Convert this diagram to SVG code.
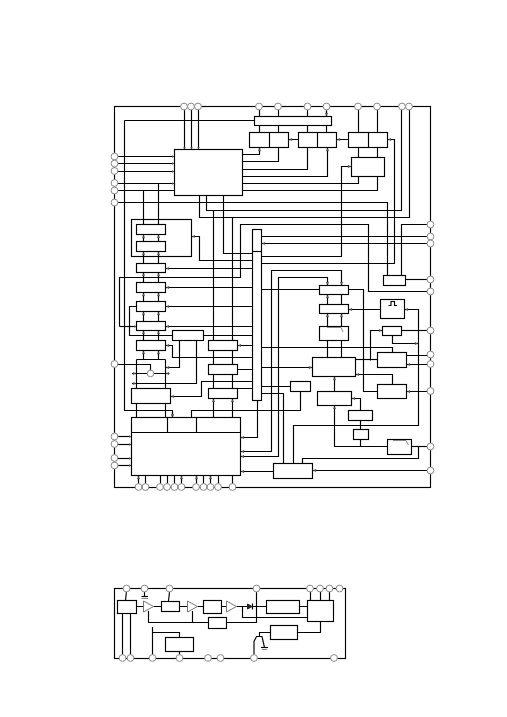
<svg xmlns="http://www.w3.org/2000/svg" width="507" height="717" viewBox="0 0 507 717">
<style>
.w{fill:none;stroke:#000;stroke-width:1.15}
.a{fill:none;stroke:#000;stroke-width:1.15;marker-end:url(#ar)}
.b{fill:#fff;stroke:#000;stroke-width:1.15}
.p{fill:#fff;stroke:#8a8a8a;stroke-width:1}
.g{fill:none;stroke:#888;stroke-width:1}
.t{fill:#fff;stroke:#777;stroke-width:1}
</style>
<defs>
<marker id="ar" markerWidth="3" markerHeight="3" refX="3" refY="1.5" orient="auto" markerUnits="userSpaceOnUse"><path d="M0 0L3 1.5L0 3z" fill="#555"/></marker>
</defs>
<rect width="507" height="717" fill="#fff"/>
<g id="connectors">
<rect class="w" x="114.5" y="106.5" width="316" height="381"/>
<path class="a" d="M184.5 106.5V149.5"/><path class="a" d="M191.5 106.5V149.5"/><path class="a" d="M198.5 106.5V149.5"/>
<path class="a" d="M124.5 120.5V410.5H172.5V417.5"/>
<path class="w" d="M124.5 120.5H254.5"/>
<path class="a" d="M114.5 156.5H174.5"/><path class="a" d="M114.5 163.5H174.5"/><path class="a" d="M114.5 171.5H174.5"/><path class="a" d="M114.5 183.5H174.5"/>
<path class="a" d="M174.5 190.5H114.5"/>
<path class="w" d="M143.5 190.5V224.5M158.5 183.5V224.5"/>
<path class="w" d="M114.5 202.5H387.5V275.5"/>
<path class="w" d="M206.5 195.5V210.5H401.5V106.5"/>
<path class="w" d="M199.5 195.5V217.5H409.5V106.5"/>
<path class="w" d="M223.5 195.5V253.5H252.5"/>
<path class="w" d="M213.5 210.5V417.5M232.5 217.5V417.5"/>
<path class="w" d="M242.5 154.5H259.5V147.5"/><path class="w" d="M242.5 161.5H278.5V147.5"/><path class="w" d="M242.5 169.5H307.5V147.5"/><path class="w" d="M242.5 176.5H327.5V147.5"/><path class="w" d="M242.5 183.5H358.5V176.5"/><path class="w" d="M242.5 190.5H377.5V176.5"/>
<path class="w" d="M259.5 106.5V132.5M278.5 106.5V132.5M307.5 106.5V132.5M326.5 106.5V132.5M358.5 106.5V157.5M377.5 106.5V157.5"/>
<path class="w" d="M288.5 139.5H298.5M336.5 139.5H348.5"/>
<path class="w" d="M387.5 139.5H394.5V263.5H261.5"/>
<path class="w" d="M351.5 166.5H341.5V256.5H261.5"/>
<path class="w" d="M119.5 326.5V277.5H240.5V224.5H368.5V291.5H430.5"/>
<path class="a" d="M119.5 326.5H136.5"/>
<path class="w" d="M430.5 224.5H401.5V275.5"/>
<path class="w" d="M405.5 279.5H430.5"/>
<path class="w" d="M430.5 236.5H261.5M430.5 243.5H261.5"/>
<path class="w" d="M191.5 236.5H199.5V260.5H252.5"/>
<path class="w" d="M143.5 234V241.5M158.5 234V241.5M143.5 251V263.5M158.5 251V263.5M143.5 272V282.5M158.5 272V282.5M143.5 292V301.5M158.5 292V301.5M143.5 311V321.5M158.5 311V321.5M143.5 330V340.5M158.5 330V340.5M143.5 350V359.5M158.5 350V359.5"/>
<path class="w" d="M165.5 268.5H252.5M165.5 287.5H252.5M165.5 306.5H252.5M165.5 326.5H252.5"/>
<path class="w" d="M136.5 306.5H129.5V335.5H172.5M203.5 335.5H252.5"/>
<path class="w" d="M165.5 345.5H172.5V357.5H252.5"/>
<path class="w" d="M179.5 340.5V367.5H165.5"/>
<path class="w" d="M196.5 340.5V383.5H136.5"/>
<path class="w" d="M136.5 359.5H165.5M136.5 359.5V388.5M165.5 359.5V388.5"/>
<path class="w" d="M114.5 364.5H150.5V373.5M136.5 373.5H165.5"/>
<path class="w" d="M237.5 345.5H252.5M237.5 369.5H252.5M237.5 388.5H252.5"/>
<path class="w" d="M170.5 396.5H201.5V381.5H252.5"/>
<path class="w" d="M136.5 403V417.5M165.5 403V417.5"/>
<path class="w" d="M257.5 400V437.5H240.5"/>
<path class="w" d="M191.5 417.5V410.5H300.5V391"/>
<path class="w" d="M240.5 451.5H271.5V270.5H341.5V285.5"/>
<path class="w" d="M240.5 456.5H278.5V277.5H327.5V285.5"/>
<path class="w" d="M261.5 289.5H319.5"/>
<path class="w" d="M327.5 294V304.5M341.5 294V304.5M327.5 313V326.5M341.5 313V326.5M327.5 340V357.5M341.5 340V357.5"/>
<path class="w" d="M348.5 289.5H363.5V391.5H377.5"/>
<path class="w" d="M380.5 309.5H348.5"/>
<path class="w" d="M404.5 309.5H418.5V425.5H293.5V463.5"/>
<path class="w" d="M401.5 330.5H430.5"/>
<path class="w" d="M382.5 330.5H370.5V360.5"/>
<path class="w" d="M392.5 335V343.5H418.5"/>
<path class="w" d="M261.5 347.5H392.5V352.5"/>
<path class="w" d="M355.5 359.5H377.5"/>
<path class="w" d="M406.5 355.5H430.5M406.5 364.5H430.5M406.5 391.5H430.5"/>
<path class="w" d="M355.5 374.5H392.5V384.5"/>
<path class="w" d="M334.5 376V391.5"/>
<path class="w" d="M351.5 398.5H360.5V410.5"/>
<path class="w" d="M360.5 420V429.5M360.5 439V446.5"/>
<path class="w" d="M334.5 405V446.5H387.5"/>
<path class="w" d="M411.5 446.5H430.5"/>
<path class="w" d="M418.5 446.5V458.5H302.5V463.5"/>
<path class="w" d="M430.5 470.5H312.5M273.5 471.5H240.5"/>
<path class="w" d="M261.5 367.5H312.5M261.5 386.5H290.5M261.5 393.5H283.5V463.5"/>
<path class="a" d="M114.5 436.5H131.5"/><path class="a" d="M114.5 444.5H131.5"/><path class="a" d="M114.5 458.5H131.5"/><path class="a" d="M114.5 465.5H131.5"/>
<path class="w" d="M138.5 487V475M145.5 487V475M160.5 487V475M167.5 487V475M174.5 487V475M181.5 487V475M196.5 487V475M203.5 487V475M210.5 487V475M218.5 487V475M232.5 487V475"/>
<g id="arrowheads">
<path class="a" d="M143.5 239V235"/><path class="a" d="M158.5 239V235"/><path class="a" d="M143.5 256V252"/><path class="a" d="M158.5 256V252"/><path class="a" d="M143.5 277V273"/><path class="a" d="M158.5 277V273"/><path class="a" d="M143.5 297V293"/><path class="a" d="M158.5 297V293"/><path class="a" d="M143.5 316V312"/><path class="a" d="M158.5 316V312"/><path class="a" d="M143.5 335V331"/><path class="a" d="M158.5 335V331"/><path class="a" d="M143.5 355V351"/><path class="a" d="M158.5 355V351"/>
<path class="a" d="M170 268.5H166"/><path class="a" d="M170 287.5H166"/><path class="a" d="M170 306.5H166"/><path class="a" d="M170 326.5H166"/><path class="a" d="M170 345.5H166"/><path class="a" d="M170 367.5H166"/><path class="a" d="M195 236.5H192"/><path class="a" d="M266 243.5H262"/>
<path class="a" d="M293 139.5H289"/><path class="a" d="M341 139.5H337"/><path class="a" d="M392 139.5H388"/>
<path class="a" d="M327.5 152V148"/><path class="a" d="M259.5 152V148"/><path class="a" d="M259.5 122V117"/><path class="a" d="M326.5 111V116"/><path class="a" d="M347 166.5H351"/>
<path class="a" d="M327.5 281V285"/><path class="a" d="M341.5 281V285"/><path class="a" d="M327.5 299V295"/><path class="a" d="M327.5 318V314"/><path class="a" d="M341.5 318V314"/>
<path class="a" d="M353 309.5H349"/><path class="a" d="M409 309.5H405"/><path class="a" d="M426 291.5H430"/><path class="a" d="M378 330.5H382"/><path class="a" d="M414 343.5H418"/>
<path class="a" d="M308 367.5H312"/><path class="a" d="M360 374.5H356"/><path class="a" d="M334.5 381V377"/><path class="a" d="M356 398.5H352"/><path class="a" d="M334.5 410V406"/><path class="a" d="M411 391.5H407"/><path class="a" d="M411 364.5H407"/><path class="a" d="M317 470.5H313"/>
<path class="a" d="M175 396.5H171"/><path class="a" d="M213.5 403V399"/><path class="a" d="M232.5 403V399"/><path class="a" d="M242 345.5H238"/><path class="a" d="M172.5 412V417"/><path class="a" d="M245 437.5H241"/><path class="a" d="M245 451.5H241"/><path class="a" d="M245 456.5H241"/><path class="a" d="M245 471.5H241"/><path class="a" d="M132 373.5H136"/><path class="a" d="M132 383.5H136"/><path class="a" d="M169.5 373.5H166"/>
<path class="a" d="M138.5 480V476"/><path class="a" d="M181.5 480V476"/><path class="a" d="M196.5 480V476"/><path class="a" d="M210.5 480V476"/>
</g>
<rect class="w" x="114.5" y="588.5" width="231" height="70"/>
<path class="w" d="M126.5 591L125.5 600.5M144.5 592V596.5M169.5 592L168.5 601M310.5 592V600.5M320.5 592V600.5M329.5 592V600.5"/>
<path class="w" d="M141.5 596.5H148"/>
<path class="g" d="M141.5 598.5H148"/>
<path class="w" d="M136.5 606.5H143.5M153.5 606.5H161.5M179.5 606.5H187.5M197.5 606.5H203.5M222 606.5H226.5M236.5 606.5H247M252.5 606.5H266.5M299.5 606.5H307.5"/>
<path class="w" d="M122.5 613V655M130.5 613V655"/>
<path class="w" d="M148.5 611V622.5H208.5M192.5 611V622.5"/>
<path class="w" d="M226.5 622.5H256.5V591"/>
<path class="w" d="M242.5 606.5V617.5H307.5"/>
<path class="w" d="M320.5 621V632.5H297.5"/>
<path class="w" d="M270.5 632.5H259.5V636.5H256.5L254 641.5V655M259.5 636.5H262L264.5 647.5"/>
<path class="w" d="M261 647.5H268"/>
<path class="g" d="M262 649.5H267"/>
<path class="w" d="M152.5 655V627"/>
<path class="w" d="M152.5 632.5H179.5V637.5M179.5 651V655"/>
</g>
<g id="n-main"><rect class="b" x="174.5" y="149.5" width="68" height="46"/></g>
<g id="n-strip"><rect class="b" x="254.5" y="116.5" width="77" height="9"/></g>
<g id="n-pair1"><rect class="b" x="249.5" y="132.5" width="39" height="15"/><path class="w" d="M269.5 132.5V147.5"/></g>
<g id="n-pair2"><rect class="b" x="298.5" y="132.5" width="38" height="15"/><path class="w" d="M317.5 132.5V147.5"/></g>
<g id="n-pair3"><rect class="b" x="348.5" y="132.5" width="39" height="15"/><path class="w" d="M368.5 132.5V147.5"/></g>
<g id="n-top4"><rect class="b" x="351.5" y="157.5" width="33" height="19"/></g>
<g id="n-left-frame"><rect class="w" x="131.5" y="219.5" width="60" height="37"/></g>
<g id="n-l1"><rect class="b" x="136.5" y="224.5" width="29" height="10"/></g>
<g id="n-l2"><rect class="b" x="136.5" y="241.5" width="29" height="10"/></g>
<g id="n-l3"><rect class="b" x="136.5" y="263.5" width="29" height="9"/></g>
<g id="n-l4"><rect class="b" x="136.5" y="282.5" width="29" height="10"/></g>
<g id="n-l5"><rect class="b" x="136.5" y="301.5" width="29" height="10"/></g>
<g id="n-l6"><rect class="b" x="136.5" y="321.5" width="29" height="9"/></g>
<g id="n-l7"><rect class="b" x="136.5" y="340.5" width="29" height="10"/></g>
<g id="n-m0"><rect class="b" x="172.5" y="330.5" width="31" height="10"/></g>
<g id="n-m1"><rect class="b" x="208.5" y="340.5" width="29" height="10"/></g>
<g id="n-m2"><rect class="b" x="208.5" y="364.5" width="29" height="10"/></g>
<g id="n-m3"><rect class="b" x="208.5" y="388.5" width="29" height="10"/></g>
<g id="n-bus"><rect class="b" x="252.5" y="229.5" width="9" height="171"/><path class="w" d="M252.5 251.5H261.5"/></g>
<g id="n-l8"><rect class="b" x="131.5" y="388.5" width="39" height="15"/></g>
<g id="n-big"><rect class="b" x="131.5" y="417.5" width="109" height="58"/><path class="w" d="M131.5 432.5H240.5M167.5 417.5V432.5M196.5 417.5V432.5"/></g>
<g id="n-a"><rect class="b" x="319.5" y="285.5" width="29" height="9"/></g>
<g id="n-b"><rect class="b" x="319.5" y="304.5" width="29" height="9"/></g>
<g id="n-c"><rect class="b" x="319.5" y="326.5" width="29" height="14"/><polyline class="g" points="327,327.5 341,327.5 343,332"/></g>
<g id="n-r1"><rect class="b" x="383.5" y="275.5" width="22" height="10"/></g>
<g id="n-pulse"><rect class="b" x="380.5" y="299.5" width="24" height="19"/><polyline class="w" points="388.5,305.5 391,305.5 391,301.5 394.5,301.5 394.5,305.5 397,305.5"/></g>
<g id="n-r2"><rect class="b" x="382.5" y="326.5" width="19" height="9"/></g>
<g id="n-d"><rect class="b" x="312.5" y="357.5" width="43" height="19"/></g>
<g id="n-e"><rect class="b" x="377.5" y="352.5" width="29" height="15"/></g>
<g id="n-f"><rect class="b" x="377.5" y="384.5" width="29" height="14"/></g>
<g id="n-g"><rect class="b" x="317.5" y="391.5" width="34" height="14"/></g>
<g id="n-h"><rect class="b" x="290.5" y="381.5" width="20" height="10"/></g>
<g id="n-i"><rect class="b" x="348.5" y="410.5" width="24" height="10"/></g>
<g id="n-j"><rect class="b" x="353.5" y="429.5" width="15" height="10"/></g>
<g id="n-k"><rect class="b" x="387.5" y="439.5" width="24" height="15"/><polyline class="g" points="393,440.5 406,440.5 408.5,445"/></g>
<g id="n-l"><rect class="b" x="273.5" y="463.5" width="39" height="15"/></g>
<g id="n-q"><circle class="p" cx="150.5" cy="373.5" r="3.3"/></g>
<g id="lower">
<g id="s-1"><rect class="b" x="117.5" y="600.5" width="19" height="13"/></g>
<g id="s-t1"><polygon class="t" points="143.5,601 143.5,612 153.5,606.5"/></g>
<g id="s-2"><rect class="b" x="161.5" y="601.5" width="18" height="10"/></g>
<g id="s-t2"><polygon class="t" points="187.5,601 187.5,612 197.5,606.5"/></g>
<g id="s-3"><rect class="b" x="203.5" y="600.5" width="18" height="13"/></g>
<g id="s-t3"><polygon class="t" points="226.5,601 226.5,612 236.5,606.5"/></g>
<g id="s-d"><polygon points="247.5,604 247.5,609 252,606.5" fill="#222" stroke="#222"/><path class="w" d="M252.5 603.5V609.5"/></g>
<g id="s-4"><rect class="b" x="266.5" y="600.5" width="33" height="13"/></g>
<g id="s-5"><rect class="b" x="307.5" y="600.5" width="26" height="21"/></g>
<g id="s-6"><rect class="b" x="208.5" y="617.5" width="18" height="11"/></g>
<g id="s-7"><rect class="b" x="270.5" y="625.5" width="27" height="14"/></g>
<g id="s-8"><rect class="b" x="165.5" y="637.5" width="28" height="14"/></g>
</g>
<g id="pins">
<circle class="p" cx="184" cy="106.5" r="3.4"/><circle class="p" cx="191" cy="106.5" r="3.4"/><circle class="p" cx="198" cy="106.5" r="3.4"/><circle class="p" cx="259" cy="106.5" r="3.4"/><circle class="p" cx="278" cy="106.5" r="3.4"/><circle class="p" cx="307.5" cy="106.5" r="3.4"/><circle class="p" cx="326.5" cy="106.5" r="3.4"/><circle class="p" cx="358" cy="106.5" r="3.4"/><circle class="p" cx="377" cy="106.5" r="3.4"/><circle class="p" cx="402" cy="106.5" r="3.4"/><circle class="p" cx="409" cy="106.5" r="3.4"/>
<circle class="p" cx="114.5" cy="156.5" r="3.4"/><circle class="p" cx="114.5" cy="163.5" r="3.4"/><circle class="p" cx="114.5" cy="171" r="3.4"/><circle class="p" cx="114.5" cy="183" r="3.4"/><circle class="p" cx="114.5" cy="190.5" r="3.4"/><circle class="p" cx="114.5" cy="202.5" r="3.4"/><circle class="p" cx="114.5" cy="364" r="3.4"/><circle class="p" cx="114.5" cy="436.5" r="3.4"/><circle class="p" cx="114.5" cy="444" r="3.4"/><circle class="p" cx="114.5" cy="458" r="3.4"/><circle class="p" cx="114.5" cy="465.5" r="3.4"/>
<circle class="p" cx="430.5" cy="224.5" r="3.4"/><circle class="p" cx="430.5" cy="236.5" r="3.4"/><circle class="p" cx="430.5" cy="243.5" r="3.4"/><circle class="p" cx="430.5" cy="279.5" r="3.4"/><circle class="p" cx="430.5" cy="291.5" r="3.4"/><circle class="p" cx="430.5" cy="330.5" r="3.4"/><circle class="p" cx="430.5" cy="354.5" r="3.4"/><circle class="p" cx="430.5" cy="364" r="3.4"/><circle class="p" cx="430.5" cy="391" r="3.4"/><circle class="p" cx="430.5" cy="446.5" r="3.4"/><circle class="p" cx="430.5" cy="470.5" r="3.4"/>
<circle class="p" cx="138.5" cy="487" r="3.4"/><circle class="p" cx="145.5" cy="487" r="3.4"/><circle class="p" cx="160" cy="487" r="3.4"/><circle class="p" cx="167" cy="487" r="3.4"/><circle class="p" cx="174.5" cy="487" r="3.4"/><circle class="p" cx="181.5" cy="487" r="3.4"/><circle class="p" cx="196" cy="487" r="3.4"/><circle class="p" cx="203.5" cy="487" r="3.4"/><circle class="p" cx="210.5" cy="487" r="3.4"/><circle class="p" cx="218" cy="487" r="3.4"/><circle class="p" cx="232.5" cy="487" r="3.4"/>
<circle class="p" cx="126.5" cy="588.5" r="3.4"/><circle class="p" cx="144.5" cy="588.5" r="3.4"/><circle class="p" cx="169.5" cy="588.5" r="3.4"/><circle class="p" cx="256.5" cy="588.5" r="3.4"/><circle class="p" cx="310" cy="588.5" r="3.4"/><circle class="p" cx="320" cy="588.5" r="3.4"/><circle class="p" cx="329.5" cy="588.5" r="3.4"/><circle class="p" cx="339.5" cy="588.5" r="3.4"/>
<circle class="p" cx="122.5" cy="658" r="3.4"/><circle class="p" cx="130.5" cy="658" r="3.4"/><circle class="p" cx="152.5" cy="658" r="3.4"/><circle class="p" cx="179.5" cy="658" r="3.4"/><circle class="p" cx="208" cy="658" r="3.4"/><circle class="p" cx="220.5" cy="658" r="3.4"/><circle class="p" cx="254" cy="658" r="3.4"/><circle class="p" cx="334" cy="658" r="3.4"/>
</g>
</svg>
